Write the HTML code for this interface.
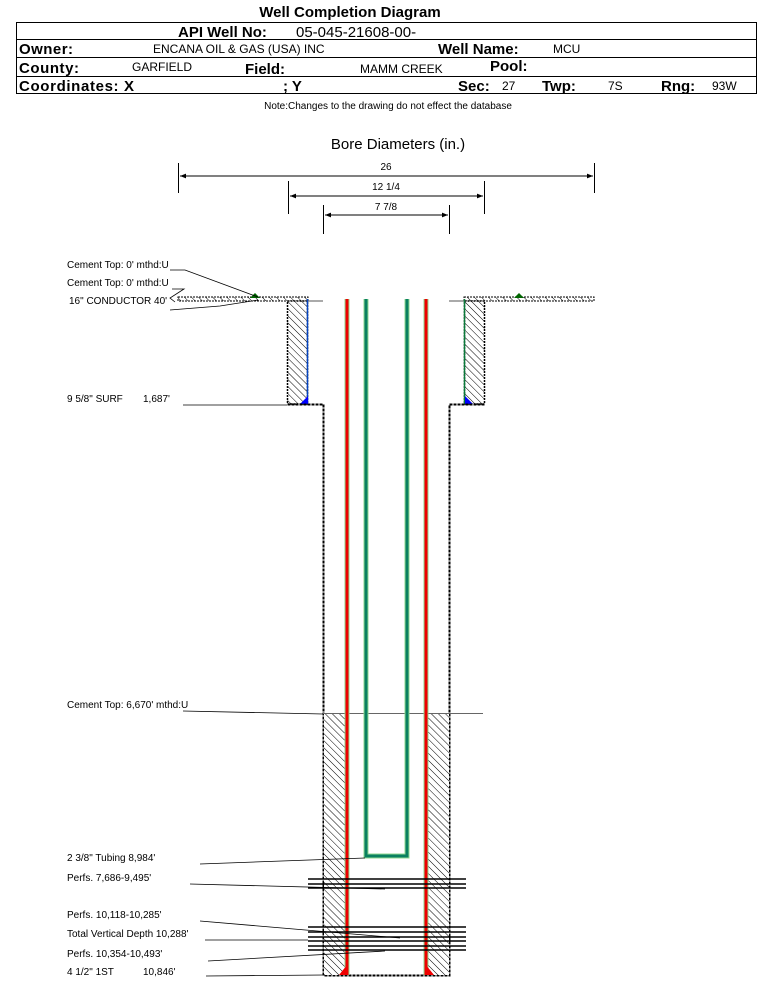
<!DOCTYPE html>
<html><head><meta charset="utf-8"><style>
body{margin:0;background:#fff;width:759px;height:981px;overflow:hidden}
svg{display:block}
text{font-family:"Liberation Sans",Arial,sans-serif}
</style></head><body>
<svg width="759" height="981" viewBox="0 0 759 981" xmlns="http://www.w3.org/2000/svg">
<defs>
<pattern id="h" width="5" height="5" patternUnits="userSpaceOnUse" patternTransform="rotate(-45)">
<rect width="5" height="5" fill="#fff"/><line x1="0" y1="0" x2="0" y2="5" stroke="#000" stroke-width="1"/>
</pattern>
<marker id="a" viewBox="0 0 10 10" refX="10" refY="5" markerWidth="8" markerHeight="6" orient="auto-start-reverse"><path d="M0,1 L10,5 L0,9z" fill="#000"/></marker>
</defs>
<!-- header -->
<text x="350" y="17" font-size="15" font-weight="bold" text-anchor="middle">Well Completion Diagram</text>
<rect x="16.5" y="22.5" width="740" height="71" fill="none" stroke="#000" stroke-width="1"/>
<line x1="16" y1="39.5" x2="757" y2="39.5" stroke="#000"/>
<line x1="16" y1="57.5" x2="757" y2="57.5" stroke="#000"/>
<line x1="16" y1="76.5" x2="757" y2="76.5" stroke="#000"/>
<text x="178" y="37" font-size="15" font-weight="bold">API Well No:</text>
<text x="296" y="37" font-size="15">05-045-21608-00-</text>
<text x="19" y="54" font-size="15" font-weight="bold" textLength="54">Owner:</text>
<text x="153" y="53" font-size="12">ENCANA OIL &amp; GAS (USA) INC</text>
<text x="438" y="54" font-size="15" font-weight="bold">Well Name:</text>
<text x="553" y="53" font-size="12">MCU</text>
<text x="19" y="73" font-size="15" font-weight="bold" textLength="60">County:</text>
<text x="132" y="71" font-size="12">GARFIELD</text>
<text x="245" y="74" font-size="15" font-weight="bold">Field:</text>
<text x="360" y="73" font-size="12">MAMM CREEK</text>
<text x="490" y="71" font-size="15" font-weight="bold">Pool:</text>
<text x="19" y="91" font-size="15" font-weight="bold" textLength="115">Coordinates: X</text>
<text x="283" y="91" font-size="15" font-weight="bold">; Y</text>
<text x="458" y="91" font-size="15" font-weight="bold">Sec:</text>
<text x="502" y="90" font-size="12">27</text>
<text x="542" y="91" font-size="15" font-weight="bold">Twp:</text>
<text x="608" y="90" font-size="12">7S</text>
<text x="661" y="91" font-size="15" font-weight="bold">Rng:</text>
<text x="712" y="90" font-size="12">93W</text>
<text x="388" y="109" font-size="10" text-anchor="middle">Note:Changes to the drawing do not effect the database</text>
<!-- bore diameters -->
<text x="398" y="149" font-size="15" text-anchor="middle">Bore Diameters (in.)</text>
<g stroke="#000" stroke-width="1">
<line x1="178.5" y1="163" x2="178.5" y2="193"/><line x1="594.5" y1="163" x2="594.5" y2="193"/>
<line x1="180" y1="176" x2="593" y2="176" marker-start="url(#a)" marker-end="url(#a)"/>
<line x1="288.5" y1="181" x2="288.5" y2="214"/><line x1="484.5" y1="181" x2="484.5" y2="214"/>
<line x1="290" y1="196" x2="483" y2="196" marker-start="url(#a)" marker-end="url(#a)"/>
<line x1="323.5" y1="205" x2="323.5" y2="234"/><line x1="449.5" y1="205" x2="449.5" y2="234"/>
<line x1="325" y1="215" x2="448" y2="215" marker-start="url(#a)" marker-end="url(#a)"/>
</g>
<g font-size="10" text-anchor="middle"><text x="386" y="170">26</text><text x="386" y="190">12 1/4</text><text x="386" y="210">7 7/8</text></g>
<!-- conductor strips -->
<rect x="178" y="297" width="130" height="4" fill="url(#h)" stroke="#000" stroke-width="1" stroke-dasharray="2,1"/>
<rect x="464" y="297" width="130" height="4" fill="url(#h)" stroke="#000" stroke-width="1" stroke-dasharray="2,1"/>
<line x1="308" y1="301" x2="323" y2="301" stroke="#555"/>
<line x1="449" y1="301" x2="464" y2="301" stroke="#555"/>
<path d="M250,298 l5,-5 l5,5z" fill="#060"/><path d="M514,298 l5,-5 l5,5z" fill="#060"/>
<!-- surface cement blocks -->
<rect x="287.5" y="301" width="20" height="103" fill="url(#h)" stroke="#000" stroke-width="1.5" stroke-dasharray="2,1"/>
<rect x="464.5" y="301" width="20" height="103" fill="url(#h)" stroke="#000" stroke-width="1.5" stroke-dasharray="2,1"/>
<line x1="307.5" y1="299" x2="307.5" y2="404" stroke="#0645c0" stroke-width="1.5"/>
<line x1="464.5" y1="299" x2="464.5" y2="404" stroke="#0a7a3a" stroke-width="1.5"/>
<path d="M300,404 l8,-8 v8z" fill="#00f"/><path d="M465,404 v-8 l8,8z" fill="#00f"/>
<!-- borehole walls -->
<path d="M287.5,404.5 H323.5 V975.5 H449.5 V404.5 H485" fill="none" stroke="#000" stroke-width="2" stroke-dasharray="3,1"/>
<!-- cement lower -->
<rect x="324" y="713" width="22" height="262" fill="url(#h)"/>
<rect x="427" y="713" width="22" height="262" fill="url(#h)"/>
<line x1="183" y1="711" x2="323" y2="714" stroke="#000" stroke-width="0.8"/>
<line x1="323" y1="713.5" x2="483" y2="713.5" stroke="#666" stroke-width="1"/>
<!-- production casing red -->
<g stroke-width="5"><line x1="347" y1="299" x2="347" y2="975" stroke="#8fd88f"/><line x1="426" y1="299" x2="426" y2="975" stroke="#8fd88f"/></g>
<g stroke-width="3"><line x1="347" y1="299" x2="347" y2="975" stroke="#e00"/><line x1="426" y1="299" x2="426" y2="975" stroke="#e00"/></g>
<path d="M339,975 l8,-10 v10z M426,965 l8,10 h-8z" fill="#e00"/>
<!-- tubing -->
<path d="M366,299 V856 H407 V299" fill="none" stroke="#8fd88f" stroke-width="5"/>
<path d="M366,299 V856 H407 V299" fill="none" stroke="#0a8060" stroke-width="3"/>
<!-- perfs -->
<g stroke="#000" stroke-width="1.5">
<line x1="308" y1="879" x2="466" y2="879"/><line x1="308" y1="884" x2="466" y2="884"/><line x1="308" y1="888" x2="466" y2="888"/>
<line x1="308" y1="927" x2="466" y2="927"/><line x1="308" y1="932" x2="466" y2="932"/><line x1="308" y1="937" x2="466" y2="937"/>
<line x1="308" y1="941" x2="466" y2="941"/><line x1="308" y1="946" x2="466" y2="946"/><line x1="308" y1="950" x2="466" y2="950"/>
</g>
<!-- leaders -->
<g stroke="#000" stroke-width="0.8" fill="none">
<polyline points="170,270 185,270 258,297"/>
<polyline points="172,289 184,289 170,298 175,302"/>
<polyline points="170,310 220,306 258,300"/>
<line x1="183" y1="405" x2="287" y2="405"/>
<line x1="200" y1="864" x2="365" y2="858"/>
<line x1="190" y1="884" x2="385" y2="889"/>
<line x1="200" y1="921" x2="400" y2="938"/>
<line x1="205" y1="940" x2="308" y2="940"/>
<line x1="208" y1="961" x2="385" y2="951"/>
<line x1="206" y1="976" x2="323" y2="975"/>
</g>
<!-- labels -->
<g font-size="10">
<text x="67" y="268">Cement Top: 0' mthd:U</text>
<text x="67" y="286">Cement Top: 0' mthd:U</text>
<text x="69" y="304">16" CONDUCTOR  40'</text>
<text x="67" y="402">9 5/8" SURF</text><text x="143" y="402">1,687'</text>
<text x="67" y="708">Cement Top: 6,670' mthd:U</text>
<text x="67" y="861">2 3/8" Tubing 8,984'</text>
<text x="67" y="881">Perfs. 7,686-9,495'</text>
<text x="67" y="918">Perfs. 10,118-10,285'</text>
<text x="67" y="937">Total Vertical Depth 10,288'</text>
<text x="67" y="957">Perfs. 10,354-10,493'</text>
<text x="67" y="975">4 1/2" 1ST</text><text x="143" y="975">10,846'</text>
</g>
</svg>
</body></html>
